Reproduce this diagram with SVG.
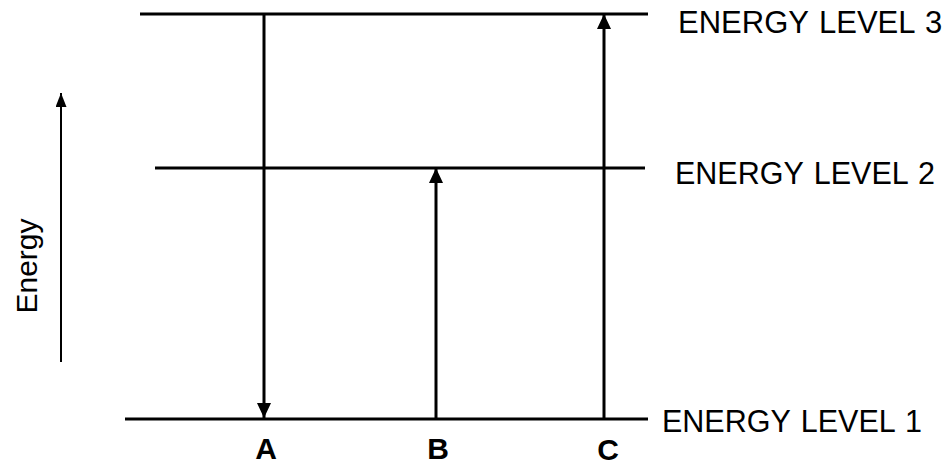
<svg xmlns="http://www.w3.org/2000/svg" width="950" height="466" viewBox="0 0 950 466">
  <style>
    .lvl { stroke: #000; stroke-width: 3; fill: none; }
    .arr { stroke: #000; stroke-width: 3; fill: none; }
    .axis { stroke: #000; stroke-width: 2; fill: none; }
    .lbl { font-family: "Liberation Sans", Arial, sans-serif; font-size: 30.5px; fill: #000; word-spacing: 2px; }
    .tag { font-family: "Liberation Sans", Arial, sans-serif; font-size: 30px; font-weight: bold; fill: #000; text-anchor: middle; }
  </style>
  <defs>
    <marker id="head" viewBox="0 0 15 14" refX="15" refY="7" markerWidth="15" markerHeight="14" markerUnits="userSpaceOnUse" orient="auto">
      <path d="M0,0 L15,7 L0,14 Z" fill="#000"/>
    </marker>
    <marker id="axhead" viewBox="0 0 14 11" refX="14" refY="5.5" markerWidth="14" markerHeight="11" markerUnits="userSpaceOnUse" orient="auto">
      <path d="M0,0 L14,5.5 L0,11 Z" fill="#000"/>
    </marker>
  </defs>
  <rect width="950" height="466" fill="#fff"/>

  <g id="level3">
    <line class="lvl" x1="140" y1="14" x2="648" y2="14"/>
    <text class="lbl" x="678" y="33" style="font-size:31px">ENERGY LEVEL 3</text>
  </g>
  <g id="level2">
    <line class="lvl" x1="155" y1="168" x2="645" y2="168"/>
    <text class="lbl" x="675" y="184">ENERGY LEVEL 2</text>
  </g>
  <g id="level1">
    <line class="lvl" x1="125" y1="419" x2="648" y2="419"/>
    <text class="lbl" x="662" y="432">ENERGY LEVEL 1</text>
  </g>

  <g id="energy-axis">
    <line class="axis" x1="61" y1="362" x2="61" y2="93" marker-end="url(#axhead)"/>
    <text x="37" y="266" transform="rotate(-90 37 266)" text-anchor="middle" style="font-family:'Liberation Sans', Arial, sans-serif; font-size:30px; fill:#000">Energy</text>
  </g>

  <g id="connectors">
    <line class="arr" x1="264" y1="14" x2="264" y2="418" marker-end="url(#head)"/>
    <line class="arr" x1="436" y1="419" x2="436" y2="168" marker-end="url(#head)"/>
    <line class="arr" x1="604" y1="419" x2="604" y2="14" marker-end="url(#head)"/>
  </g>

  <g id="labels">
    <text class="tag" x="266" y="459">A</text>
    <text class="tag" x="438" y="459">B</text>
    <text class="tag" x="608" y="460">C</text>
  </g>
</svg>
